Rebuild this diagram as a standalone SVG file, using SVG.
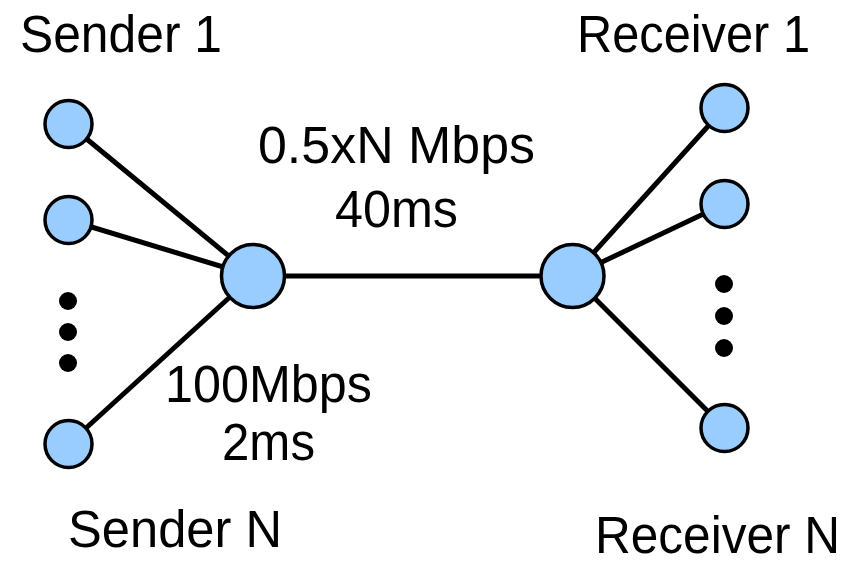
<svg xmlns="http://www.w3.org/2000/svg" width="859" height="565" viewBox="0 0 859 565">
  <style>
    .node { fill: #99ccff; stroke: #000; stroke-width: 3.5; }
    .link { stroke: #000; stroke-width: 5; fill: none; }
    .dot { fill: #000; }
    .label { font-family: "Liberation Sans", Arial, sans-serif; font-size: 51px; fill: #000; }
  </style>
  <rect width="859" height="565" fill="#fff"/>

  <!-- links -->
  <g id="connectors">
    <line class="link" x1="68.5" y1="124" x2="253" y2="276"/>
    <line class="link" x1="68.5" y1="220" x2="253" y2="276"/>
    <line class="link" x1="68.5" y1="444" x2="253" y2="276"/>
    <line class="link" x1="253" y1="276" x2="572.5" y2="276"/>
    <line class="link" x1="572.5" y1="276" x2="724.5" y2="108"/>
    <line class="link" x1="572.5" y1="276" x2="724.5" y2="204"/>
    <line class="link" x1="572.5" y1="276" x2="724.5" y2="428"/>
  </g>

  <!-- senders -->
  <g id="sender1"><circle class="node" cx="68.5" cy="124" r="23.5"/></g>
  <g id="sender2"><circle class="node" cx="68.5" cy="220" r="23.5"/></g>
  <g id="senderN"><circle class="node" cx="68.5" cy="444" r="23.5"/></g>
  <g id="sender-ellipsis">
    <circle class="dot" cx="68" cy="301" r="9"/>
    <circle class="dot" cx="68" cy="332" r="9"/>
    <circle class="dot" cx="68" cy="363" r="9"/>
  </g>

  <!-- routers -->
  <g id="router-left"><circle class="node" cx="253" cy="276" r="31.5"/></g>
  <g id="router-right"><circle class="node" cx="572.5" cy="276" r="31.5"/></g>

  <!-- receivers -->
  <g id="receiver1"><circle class="node" cx="724.5" cy="108" r="23.5"/></g>
  <g id="receiver2"><circle class="node" cx="724.5" cy="204" r="23.5"/></g>
  <g id="receiverN"><circle class="node" cx="724.5" cy="428" r="23.5"/></g>
  <g id="receiver-ellipsis">
    <circle class="dot" cx="724" cy="284" r="9"/>
    <circle class="dot" cx="724" cy="316" r="9"/>
    <circle class="dot" cx="724" cy="348" r="9"/>
  </g>

  <!-- labels -->
  <g id="labels">
    <text class="label" x="20" y="52" textLength="202" lengthAdjust="spacingAndGlyphs">Sender 1</text>
    <text class="label" x="68" y="547" textLength="214" lengthAdjust="spacingAndGlyphs">Sender N</text>
    <text class="label" x="577" y="52" textLength="233" lengthAdjust="spacingAndGlyphs">Receiver 1</text>
    <text class="label" x="595" y="553" textLength="245" lengthAdjust="spacingAndGlyphs">Receiver N</text>
    <text class="label" x="258" y="163" textLength="277" lengthAdjust="spacingAndGlyphs">0.5xN Mbps</text>
    <text class="label" x="335" y="227" textLength="123" lengthAdjust="spacingAndGlyphs">40ms</text>
    <text class="label" x="165" y="402" textLength="207" lengthAdjust="spacingAndGlyphs">100Mbps</text>
    <text class="label" x="222" y="460" textLength="93" lengthAdjust="spacingAndGlyphs">2ms</text>
  </g>
</svg>
